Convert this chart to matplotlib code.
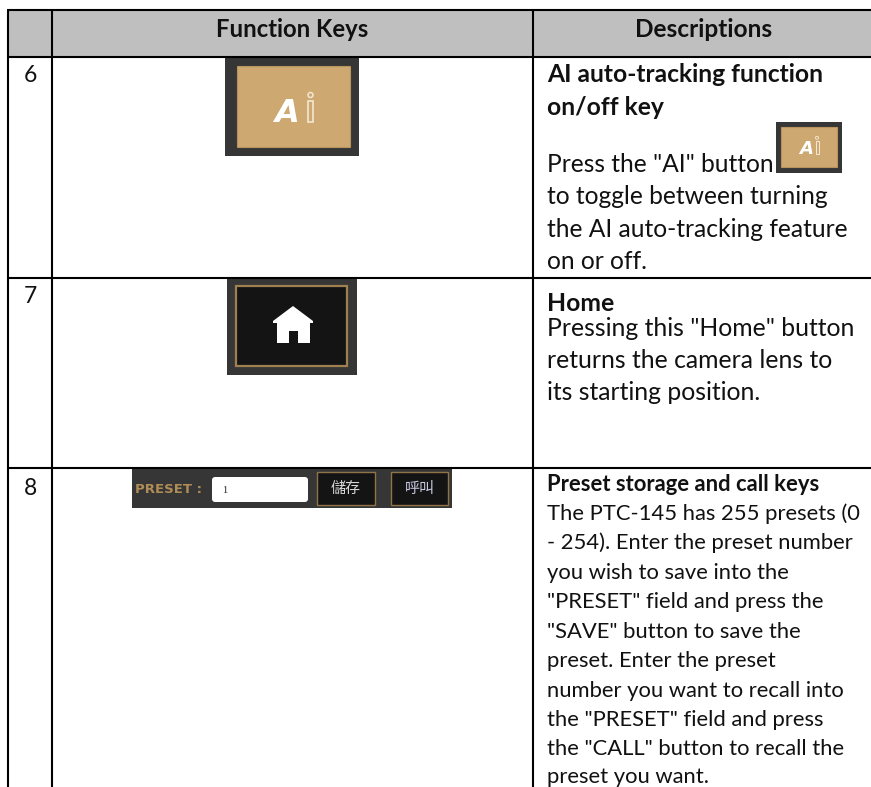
import matplotlib
matplotlib.use("Agg")
import matplotlib.pyplot as plt
from matplotlib.patches import Rectangle, FancyBboxPatch, Polygon, Circle

plt.rcParams['font.family'] = ['Lato', 'DejaVu Sans']

headers = ["Function Keys", "Descriptions"]
row_numbers = ["6", "7", "8"]

# (text, baseline in pixels, bold)
desc_6 = [("AI auto-tracking function", 82, True), ("on/off key", 115, True),
          ("Press the \"AI\" button", 172, False), ("to toggle between turning", 204, False),
          ("the AI auto-tracking feature", 237, False), ("on or off.", 269, False)]
desc_7 = [("Home", 311, True), ("Pressing this \"Home\" button", 336, False),
          ("returns the camera lens to", 368, False), ("its starting position.", 400, False)]
desc_8 = [("Preset storage and call keys", 491, True), ("The PTC-145 has 255 presets (0", 520, False),
          ("- 254). Enter the preset number", 549, False), ("you wish to save into the", 579, False),
          ("\"PRESET\" field and press the", 608, False), ("\"SAVE\" button to save the", 638, False),
          ("preset. Enter the preset", 667, False), ("number you want to recall into", 697, False),
          ("the \"PRESET\" field and press", 726, False), ("the \"CALL\" button to recall the", 755, False),
          ("preset you want.", 783, False)]

W, H = 871, 787
fig = plt.figure(figsize=(W / 100, H / 100), dpi=100)
ax = fig.add_axes([0, 0, 1, 1])
ax.set_xlim(0, W)
ax.set_ylim(H, 0)
ax.axis("off")


def box(x0, y0, x1, y1, fc, ec="none", lw=0, z=2):
    ax.add_patch(Rectangle((x0, y0), x1 - x0, y1 - y0, fc=fc, ec=ec, lw=lw, zorder=z))


# table
box(8, 10, W, 57, "#BFBFBF", z=1)
for y in [10, 57, 278, 468]:
    ax.plot([7, W], [y, y], color="black", lw=1.5, zorder=3, solid_capstyle="butt")
for x in [8.3, 52, 533]:
    ax.plot([x, x], [10, H], color="black", lw=1.5, zorder=3, solid_capstyle="butt")

ax.text(292, 37, headers[0], fontsize=17.2, fontweight="bold", ha="center", va="baseline", color="#111111")
ax.text(704, 37, headers[1], fontsize=17.6, fontweight="bold", ha="center", va="baseline", color="#111111")

for label, y in zip(row_numbers, [82, 303, 495]):
    ax.text(30, y, label, fontsize=16.5, ha="center", va="baseline", color="#111111")

for lines, size in [(desc_6, 17.7), (desc_7, 17.8), (desc_8, 15.8)]:
    for text, base, bold in lines:
        ax.text(547, base, text, fontsize=size, fontweight="bold" if bold else "normal",
                ha="left", va="baseline", color="#111111")


def ai_button(outer, inner, a_x, base, size, i_x, scale):
    box(outer[0], outer[1], outer[2], outer[3], "#363636")
    box(inner[0], inner[1], inner[2], inner[3], "#CDA870", ec="#B8935C", lw=0.8)
    ax.text(a_x, base, "A", fontsize=size, fontweight="bold", style="italic",
            family="DejaVu Sans", color="white", ha="left", va="baseline", zorder=4)
    ax.add_patch(Rectangle((i_x - 2.5 * scale, base - 21 * scale), 5 * scale, 21 * scale,
                           fc="none", ec="#F3E7D3", lw=1.2 * scale, zorder=4))
    ax.add_patch(Circle((i_x, base - 27 * scale), 2.5 * scale, fc="none", ec="#F3E7D3", lw=1.1 * scale, zorder=4))


ai_button((225, 57, 359, 156), (236.7, 66, 350, 147), 274, 122, 23, 310.5, 1.0)
ai_button((776, 122, 842, 173), (780.5, 127, 837, 167), 799, 154, 13, 817, 0.6)

# home key
box(227, 278, 357, 375, "#363636")
box(235.5, 286, 347, 366, "#141414", ec="#A08050", lw=1.6)
house = [(293, 306), (313, 321), (313, 323), (310, 323), (310, 343), (298, 343), (298, 331),
         (289, 331), (289, 343), (277, 343), (277, 323), (273, 323), (273, 321)]
ax.add_patch(Polygon(house, closed=True, fc="white", ec="none", zorder=4))

# preset bar
box(132, 468, 452, 508, "#363636")
ax.text(135, 493, "PRESET :", fontsize=9.5, fontweight="bold", family="DejaVu Sans", color="#B08D57",
        ha="left", va="baseline", zorder=4)
ax.add_patch(FancyBboxPatch((214, 479), 92, 21, boxstyle="round,pad=2,rounding_size=3",
                            fc="white", ec="none", zorder=4))
ax.text(225, 493, "1", fontsize=7.5, family="Liberation Serif", color="#222222",
        ha="center", va="baseline", zorder=5)
for x0, x1, label, col in [(317, 375, "儲存", "#D8D8D8"), (391, 448, "呼叫", "#C8C8E0")]:
    box(x0, 472, x1, 505, "#141414", ec="#8F7448", lw=1.0, z=4)
    ax.text((x0 + x1) / 2, 488.5, label, fontsize=10.8, family=["Noto Sans CJK TC", "DejaVu Sans"],
            color=col, ha="center", va="center", zorder=5)

fig.savefig("out.png", dpi=100)
